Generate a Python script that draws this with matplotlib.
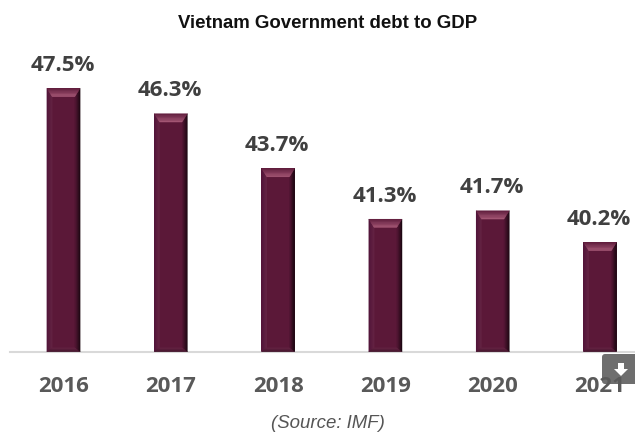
import matplotlib

matplotlib.use("Agg")
import matplotlib.pyplot as plt
from matplotlib.colors import to_rgb
from matplotlib.patches import FancyArrow, FancyBboxPatch, Polygon

years = ["2016", "2017", "2018", "2019", "2020", "2021"]
debt_pct = [47.5, 46.3, 43.7, 41.3, 41.7, 40.2]

W, H = 635, 432
BAR_W = 0.31
BASE = 35.0
FACE = "#5b1838"
# bevel sizes in data units
SIDE = 0.05
TOP = 0.4
BOTTOM = 0.2
STEPS = 6


def mix(c1, c2, t):
    a, b = to_rgb(c1), to_rgb(c2)
    return tuple(x + (y - x) * t for x, y in zip(a, b))


def bevel(ax, outer, inner, c1, c2):
    # outer and inner are edges (two points each), shaded in strips from one to the other
    for s in range(STEPS):
        t0, t1 = s / STEPS, (s + 1) / STEPS
        pts = []
        for p, q in zip(outer, inner):
            pts.append((p[0] + (q[0] - p[0]) * t0, p[1] + (q[1] - p[1]) * t0))
        for p, q in zip(reversed(outer), reversed(inner)):
            pts.append((p[0] + (q[0] - p[0]) * t1, p[1] + (q[1] - p[1]) * t1))
        color = mix(c1, c2, (s + 0.5) / STEPS)
        ax.add_patch(Polygon(pts, closed=True, facecolor=color, edgecolor=color,
                             linewidth=0.2, zorder=3))


fig = plt.figure(figsize=(W / 100, H / 100), dpi=100, facecolor="white")
ax = fig.add_axes([10 / W, (H - 352) / H, 625 / W, 312 / H])
ax.set_xlim(-0.4986, 5.326)
ax.set_ylim(BASE, 49.79)

for i, (year, value) in enumerate(zip(years, debt_pct)):
    left, right = i - BAR_W / 2, i + BAR_W / 2
    ax.bar(i, value - BASE, bottom=BASE, width=BAR_W, color=FACE, linewidth=0, zorder=2)
    il, ir = left + SIDE, right - SIDE
    top_y, low_y = value - TOP, BASE + BOTTOM
    bevel(ax, [(left, value), (left, BASE)], [(il, top_y), (il, low_y)], "#50143a", "#662545")
    bevel(ax, [(right, value), (right, BASE)], [(ir, top_y), (ir, low_y)], "#12040b", "#561736")
    bevel(ax, [(left, BASE), (right, BASE)], [(il, low_y), (ir, low_y)], "#3d1026", "#652544")
    bevel(ax, [(left, value), (right, value)], [(il, top_y), (ir, top_y)], "#5f1c3c", "#a85a78")
    ax.text(i - 0.01, value + 0.58, f"{value:.1f}%", ha="center", va="bottom",
            fontsize=16, fontweight="bold", family="Open Sans", color="#404040")

ax.set_xticks(range(len(years)))
ax.set_xticklabels(years, fontsize=16, fontweight="bold", family="Open Sans", color="#595959")
ax.tick_params(axis="x", length=0, pad=17)
ax.set_yticks([])
for side in ["top", "left", "right"]:
    ax.spines[side].set_visible(False)
ax.spines["bottom"].set_color("#d9d9d9")
ax.spines["bottom"].set_linewidth(1.5)

fig.text(328 / W, 1 - 23 / H, "Vietnam Government debt to GDP", ha="center", va="center",
         fontsize=13.4, fontweight="bold", family="Liberation Sans", color="#111111")
fig.text(328 / W, 1 - 423 / H, "(Source: IMF)", ha="center", va="center",
         fontsize=13.4, fontstyle="italic", family="Liberation Sans", color="#555555")

# download button in the lower right corner
button = FancyBboxPatch((602, H - 384), 40, 30, boxstyle="round,pad=0,rounding_size=3",
                        transform=None, facecolor="#5a5a5a", edgecolor="none", alpha=0.88, zorder=10)
fig.add_artist(button)
arrow = FancyArrow(621, H - 363, 0, -13, width=6, head_width=14, head_length=7,
                   length_includes_head=True, transform=None, facecolor="white",
                   edgecolor="none", zorder=11)
fig.add_artist(arrow)

fig.savefig("out.png", dpi=100)
plt.close(fig)
